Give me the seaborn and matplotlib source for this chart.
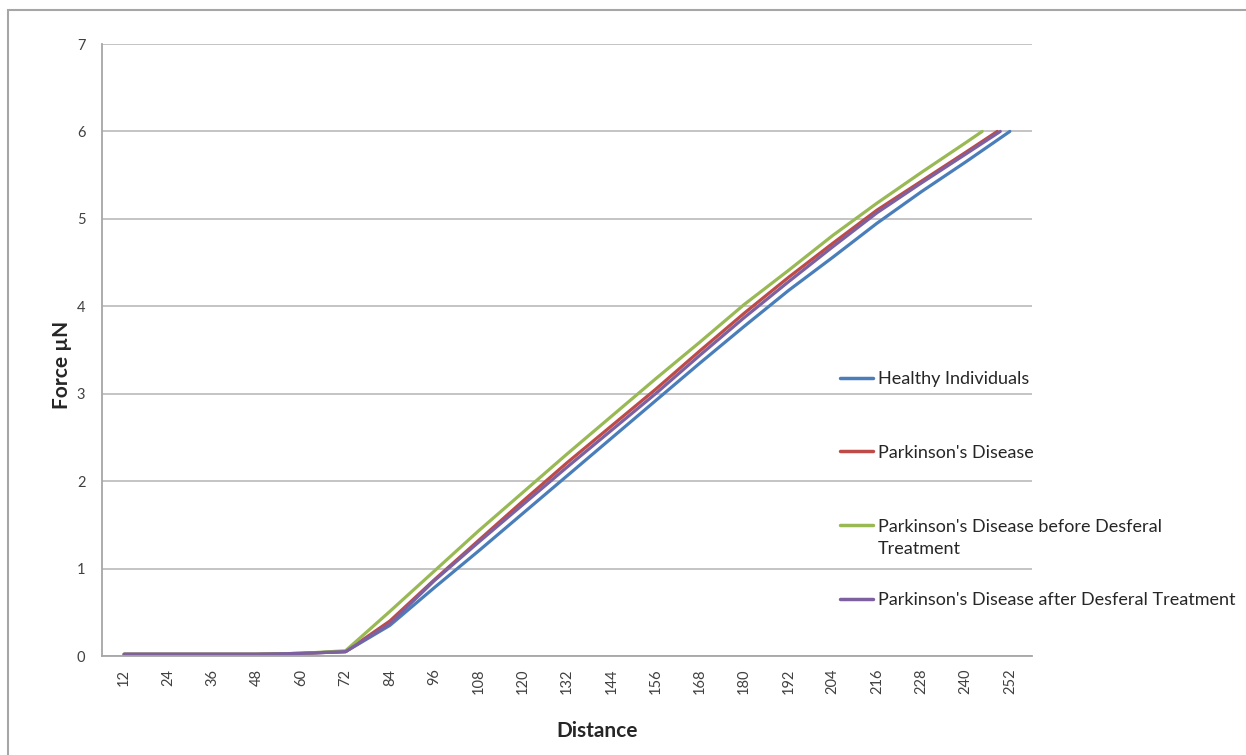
import pandas as pd
import matplotlib
matplotlib.use("Agg")
import matplotlib.pyplot as plt
from matplotlib.patches import Rectangle
import seaborn as sns

# distance categories (values read at every 12 units)
distance = [12, 24, 36, 48, 60, 72, 84, 96, 108, 120, 132, 144, 156, 168, 180, 192, 204, 216, 228, 240]

healthy = [0.02, 0.02, 0.02, 0.02, 0.03, 0.05, 0.35, 0.78, 1.20, 1.63, 2.06, 2.49, 2.92, 3.35, 3.77, 4.18, 4.56, 4.95, 5.31, 5.65]
parkinson = [0.02, 0.02, 0.02, 0.02, 0.03, 0.05, 0.40, 0.87, 1.32, 1.77, 2.21, 2.63, 3.05, 3.49, 3.92, 4.33, 4.72, 5.10, 5.43, 5.76]
before = [0.02, 0.02, 0.02, 0.02, 0.03, 0.06, 0.51, 0.97, 1.43, 1.87, 2.31, 2.74, 3.17, 3.59, 4.02, 4.41, 4.81, 5.18, 5.53, 5.87]
after = [0.02, 0.02, 0.02, 0.02, 0.03, 0.05, 0.37, 0.86, 1.30, 1.73, 2.16, 2.58, 3.00, 3.44, 3.87, 4.28, 4.68, 5.07, 5.41, 5.74]

# last point of each curve (where it reaches 6)
healthy_end = (252, 6.0)
parkinson_end = (248.6, 6.0)
before_end = (244.5, 6.0)
after_end = (249.4, 6.0)

names = ["Healthy Individuals", "Parkinson's Disease",
         "Parkinson's Disease before Desferal Treatment",
         "Parkinson's Disease after Desferal Treatment"]
# legend text as wrapped in the original
legend_first = ["Healthy Individuals", "Parkinson's Disease",
                "Parkinson's Disease before Desferal",
                "Parkinson's Disease after Desferal Treatment"]
legend_wrap = "Treatment"
colors = ["#4A7EBB", "#BE4B48", "#98B954", "#7D60A0"]
x_ticks = [12, 24, 36, 48, 60, 72, 84, 96, 108, 120, 132, 144, 156, 168, 180, 192, 204, 216, 228, 240, 252]

rows = []
for name, ys, end in zip(names, [healthy, parkinson, before, after],
                         [healthy_end, parkinson_end, before_end, after_end]):
    for d, f in zip(distance + [end[0]], ys + [end[1]]):
        rows.append({"Distance": d, "Force": f, "series": name})
df = pd.DataFrame(rows)

sns.set_style("white")
plt.rcParams['font.family'] = ['Lato', 'DejaVu Sans']

fig = plt.figure(figsize=(12.46, 7.55), dpi=100)
ax = fig.add_axes([102 / 1246, 1 - 656 / 755, 930 / 1246, 612 / 755])

# outer frame of the picture
fig.patches.append(Rectangle((8 / 1246, -0.05), 1.1, 1 - 10 / 755 + 0.05,
                             transform=fig.transFigure, fill=False,
                             edgecolor="#a6a6a6", lw=1.5))

sns.lineplot(data=df, x="Distance", y="Force", hue="series", hue_order=names,
             palette=colors, lw=2.3, ax=ax, sort=False)

ax.set_xlim(6, 258)
ax.set_ylim(0, 7)
ax.set_xticks(x_ticks)
ax.set_xticklabels([str(t) for t in x_ticks], rotation=90)
ax.set_xticks([6 + 12 * i for i in range(22)], minor=True)
ax.tick_params(axis="x", which="major", length=0, pad=9, labelsize=10.5, labelcolor="#404040")
ax.tick_params(axis="x", which="minor", length=5, width=1, color="#a6a6a6", direction="out")
ax.set_yticks(range(8))
ax.tick_params(axis="y", length=6, width=1, color="#a6a6a6", direction="out", pad=6,
               labelsize=10.5, labelcolor="#404040")
ax.grid(axis="y", color="#bfbfbf", lw=1.3)
ax.set_axisbelow(True)
for s in ["top", "right"]:
    ax.spines[s].set_visible(False)
for s in ["left", "bottom"]:
    ax.spines[s].set_color("#a6a6a6")
    ax.spines[s].set_linewidth(1.3)

ax.set_xlabel("Distance", fontsize=15, fontweight="bold")
ax.set_ylabel("Force µN", fontsize=15, fontweight="bold")
ax.xaxis.set_label_coords((597 - 102) / 930, -(731 - 656) / 612)
ax.xaxis.label.set_va("center")
ax.yaxis.set_label_coords((62 - 102) / 930, (656 - 365) / 612)
ax.yaxis.label.set_va("center")

handles, _ = ax.get_legend_handles_labels()
leg = ax.legend(handles, legend_first, loc="upper left",
                bbox_to_anchor=(840 / 1246, 1 - 371 / 755),
                bbox_transform=fig.transFigure, frameon=False, fontsize=13,
                handlelength=1.85, handletextpad=0.28, labelspacing=3.2,
                borderaxespad=0, borderpad=0)
for line in leg.get_lines():
    line.set_linewidth(2.5)
for t in leg.get_texts():
    t.set_color("#262626")
fig.text(878 / 1246, 1 - 549 / 755, legend_wrap, fontsize=13, color="#262626",
         va="center", ha="left")

fig.savefig("out.png", dpi=100)
